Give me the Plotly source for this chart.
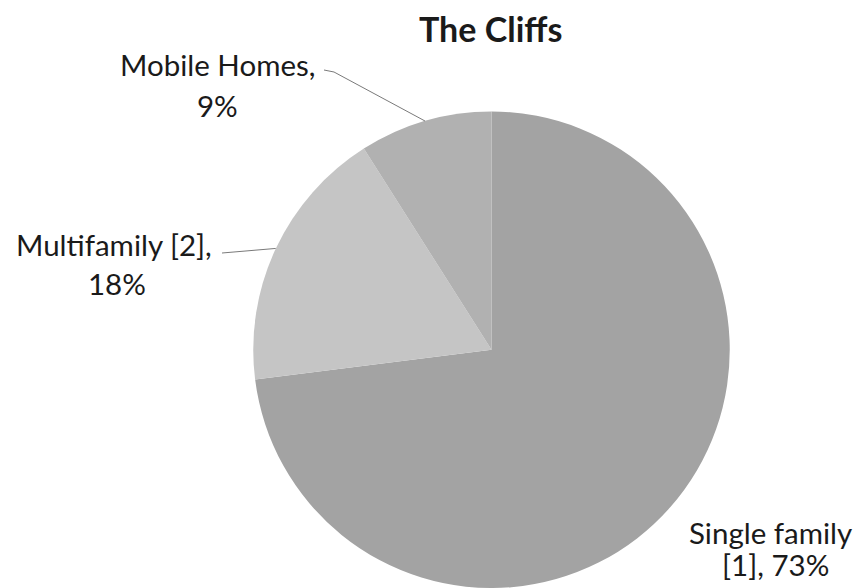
import math
import plotly.graph_objects as go

# Housing mix for The Cliffs
categories = ["Single family [1]", "Multifamily [2]", "Mobile Homes"]
shares = [73, 18, 9]
label_lines = [["Single family", "[1], 73%"],
               ["Multifamily [2],", "18%"],
               ["Mobile Homes,", "9%"]]
slice_colors = ["#a3a3a3", "#c5c5c5", "#b1b1b1"]

W, H = 859, 588
FONT = "Lato"

# pie placement (pixels) -> paper domain
cx, cy, r = 491.5, 350.0, 238.5
dom_x = [(cx - r) / W, (cx + r) / W]
dom_y = [max(0.0, 1 - (cy + r) / H), 1 - (cy - r) / H]

fig = go.Figure(go.Pie(
    labels=categories,
    values=shares,
    sort=False,
    direction="clockwise",
    rotation=0,
    textinfo="none",
    hoverinfo="label+percent",
    marker=dict(colors=slice_colors, line=dict(width=0)),
    domain=dict(x=dom_x, y=dom_y),
    showlegend=False,
))


def px(x, y):
    return x / W, 1 - y / H


# label line positions (pixel centres)
label_pos = [[(770, 532), (775, 564)],
             [(114, 244), (117, 283)],
             [(217, 64), (217, 105)]]

annotations = []
for lines, pos in zip(label_lines, label_pos):
    for txt, (x, y) in zip(lines, pos):
        ax, ay = px(x, y)
        annotations.append(dict(
            x=ax, y=ay, xref="paper", yref="paper", text=txt,
            showarrow=False, xanchor="center", yanchor="middle",
            font=dict(family=FONT, size=29.5, color="#1a1a1a")))

annotations.append(dict(
    x=px(490, 28)[0], y=px(490, 28)[1], xref="paper", yref="paper",
    text="<b>The Cliffs</b>", showarrow=False, xanchor="center",
    yanchor="middle", font=dict(family=FONT, size=34, color="#1a1a1a")))

# leader lines from label to the middle of each slice's outer edge
total = sum(shares)
cum = 0.0
mid_angles = []
for v in shares:
    mid_angles.append((cum + v / 2) / total * 2 * math.pi)
    cum += v


def edge_point(i):
    a = mid_angles[i]
    return cx + r * math.sin(a), cy - r * math.cos(a)


shapes = []
line_style = dict(color="#7a7a7a", width=1)
# Multifamily leader
ex, ey = edge_point(1)
x0, y0 = px(222, 253)
x1, y1 = px(ex, ey)
shapes.append(dict(type="line", xref="paper", yref="paper",
                   x0=x0, y0=y0, x1=x1, y1=y1, line=line_style))
# Mobile Homes leader (short hook, then diagonal)
ex, ey = edge_point(2)
xa, ya = px(324, 70)
xb, yb = px(334, 72)
xc, yc = px(ex, ey)
shapes.append(dict(type="line", xref="paper", yref="paper",
                   x0=xa, y0=ya, x1=xb, y1=yb, line=line_style))
shapes.append(dict(type="line", xref="paper", yref="paper",
                   x0=xb, y0=yb, x1=xc, y1=yc, line=line_style))

fig.update_layout(
    width=W, height=H,
    margin=dict(l=0, r=0, t=0, b=0),
    paper_bgcolor="white",
    plot_bgcolor="white",
    annotations=annotations,
    shapes=shapes,
)

fig.write_html("out.html")
